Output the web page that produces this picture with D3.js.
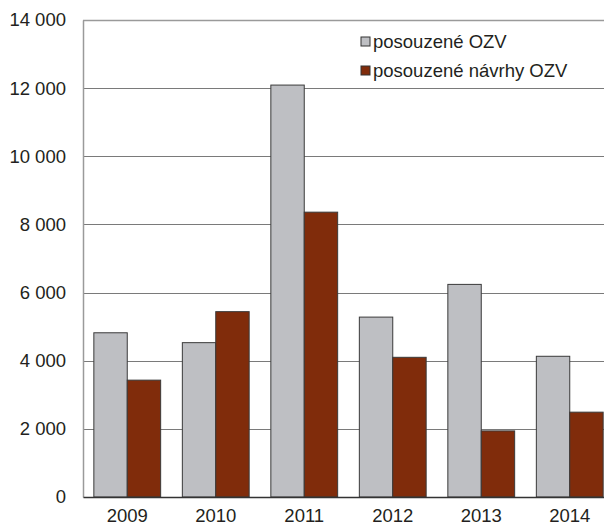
<!DOCTYPE html>
<html>
<head>
<meta charset="utf-8">
<script src="https://cdn.jsdelivr.net/npm/d3@7"></script>
<style>
  body { margin: 0; background: #fff; }
  svg { display: block; font-family: "Liberation Sans", Arial, sans-serif; }
</style>
</head>
<body>
<div id="chart"></div>
<script>
// data
const years = ['2009', '2010', '2011', '2012', '2013', '2014'];
const posouzeneOZV = [4820, 4530, 12090, 5280, 6240, 4130];
const posouzeneNavrhy = [3430, 5440, 8360, 4100, 1940, 2490];
const seriesNames = ['posouzené OZV', 'posouzené návrhy OZV'];
const yTicks = [0, 2000, 4000, 6000, 8000, 10000, 12000, 14000];

const colors = ['#bebfc3', '#802c0b'];

// dimensions
const width = 604;
const height = 527;
const margin = { top: 20, right: -10, bottom: 30, left: 83 };
const innerW = width - margin.left - margin.right;
const innerH = height - margin.top - margin.bottom;

const svg = d3.select('#chart')
    .append('svg')
    .attr('width', width)
    .attr('height', height);

const g = svg.append('g')
    .attr('transform', 'translate(' + margin.left + ',' + margin.top + ')');

const x = d3.scaleBand()
    .domain(years)
    .range([0, innerW])
    .paddingInner(0.245)
    .paddingOuter(0.1225);

const x1 = d3.scaleBand()
    .domain([0, 1])
    .range([0, x.bandwidth()]);

const y = d3.scaleLinear()
    .domain([0, 14000])
    .range([innerH, 0]);

const fmt = v => d3.format(',')(v).replace(/,/g, ' ');

// grid lines
g.append('g')
    .selectAll('line')
    .data(yTicks.filter(d => d > 0 && d < 14000))
    .enter()
    .append('line')
    .attr('x1', 0)
    .attr('x2', innerW)
    .attr('y1', d => Math.round(y(d)) + 0.5)
    .attr('y2', d => Math.round(y(d)) + 0.5)
    .attr('stroke', '#7a7a7a')
    .attr('stroke-width', 1.2);

// top border
g.append('line')
    .attr('x1', 0).attr('x2', innerW)
    .attr('y1', y(14000) + 0.5).attr('y2', y(14000) + 0.5)
    .attr('stroke', '#9a9a9a')
    .attr('stroke-width', 1.5);

// left axis
const yAxis = g.append('g')
    .call(d3.axisLeft(y).tickValues(yTicks).tickFormat(fmt).tickSize(0).tickPadding(17));
yAxis.select('.domain').attr('stroke', '#9a9a9a').attr('stroke-width', 1.5);
yAxis.selectAll('text')
    .attr('font-size', 18.5)
    .attr('fill', '#231f20')
    .attr('font-family', '"Liberation Sans", Arial, sans-serif');

// bars
const groups = g.append('g')
    .selectAll('g')
    .data(years)
    .enter()
    .append('g')
    .attr('transform', d => 'translate(' + x(d) + ',0)');

groups.selectAll('rect')
    .data((d, i) => [posouzeneOZV[i], posouzeneNavrhy[i]])
    .enter()
    .append('rect')
    .attr('x', (d, j) => x1(j))
    .attr('y', d => y(d))
    .attr('width', x1.bandwidth())
    .attr('height', d => y(0) - y(d))
    .attr('fill', (d, j) => colors[j])
    .attr('stroke', '#3a3a3a')
    .attr('stroke-width', 1);

// bottom axis
const xAxis = g.append('g')
    .attr('transform', 'translate(0,' + innerH + ')')
    .call(d3.axisBottom(x).tickSize(0).tickPadding(12));
xAxis.select('.domain').attr('stroke', '#333').attr('stroke-width', 1.5);
xAxis.selectAll('text')
    .attr('font-size', 18.5)
    .attr('fill', '#231f20')
    .attr('font-family', '"Liberation Sans", Arial, sans-serif');

// legend
const legend = svg.append('g')
    .attr('transform', 'translate(361,33)');

const items = legend.selectAll('g')
    .data(seriesNames)
    .enter()
    .append('g')
    .attr('transform', (d, i) => 'translate(0,' + i * 29 + ')');

items.append('rect')
    .attr('x', 0)
    .attr('y', 4)
    .attr('width', 9)
    .attr('height', 9)
    .attr('fill', (d, i) => colors[i])
    .attr('stroke', '#333')
    .attr('stroke-width', 1);

items.append('text')
    .attr('x', 12)
    .attr('y', 15)
    .attr('font-size', 18.5)
    .attr('fill', '#231f20')
    .text(d => d);
</script>
</body>
</html>
